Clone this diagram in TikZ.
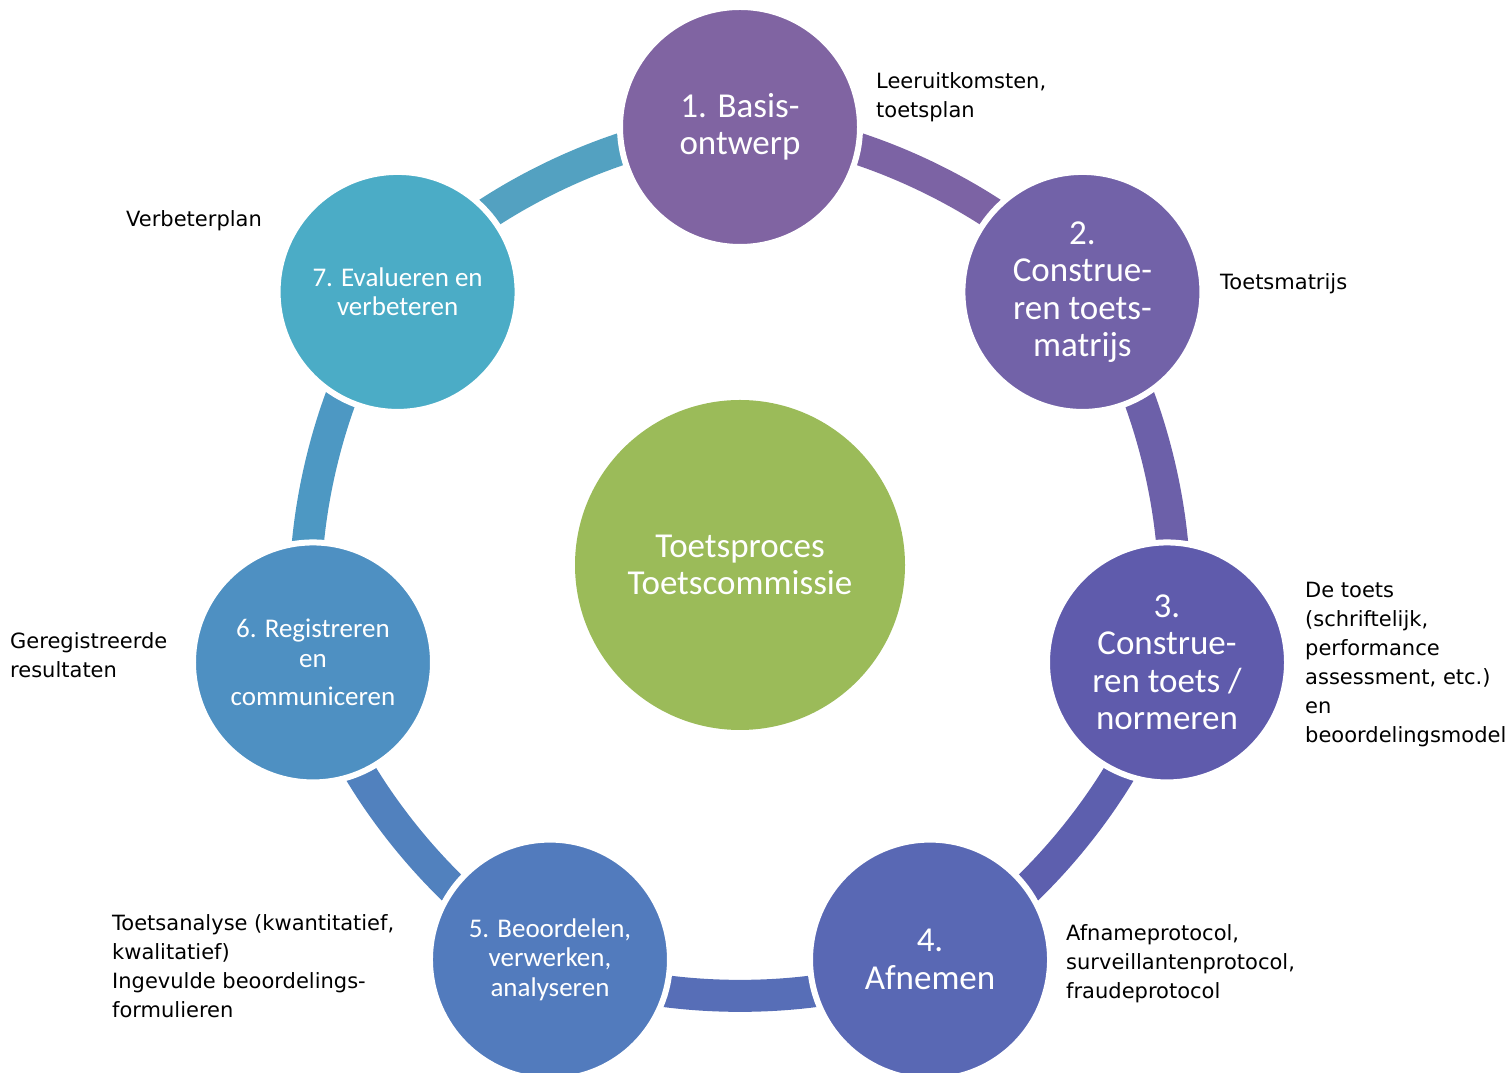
\documentclass[tikz,border=0pt]{standalone}
\usepackage{fontspec}
\usepackage{tikz}
\usetikzlibrary{calc}
\usetikzlibrary{backgrounds}
\newfontfamily\stapfont{Carlito}
\newfontfamily\labelfont{DejaVu Sans}
\definecolor{stapa}{HTML}{8064A2}
\definecolor{stapb}{HTML}{7262A8}
\definecolor{stapc}{HTML}{5F5BAC}
\definecolor{stapd}{HTML}{5968B4}
\definecolor{stape}{HTML}{527BBD}
\definecolor{stapf}{HTML}{4E90C2}
\definecolor{stapg}{HTML}{4BACC6}
\definecolor{midgreen}{HTML}{9BBB59}
\tikzset{
  stap/.style={shape=circle, draw=white, line width=6pt, minimum size=240pt, inner sep=0pt, text=white, align=center},
  bigtxt/.style={font=\stapfont\fontsize{35}{37.5}\selectfont},
  smalltxt/.style={font=\stapfont\fontsize{27}{29.5}\selectfont},
  ringarc/.style={line width=32pt},
  uitvoer/.style={anchor=west, inner sep=0pt, align=left, font=\labelfont\fontsize{21}{29}\selectfont}
}
\newcommand{\stapcirkel}[5]{\node[stap, #4, fill=#2] (#1) at ($(mid)+(#3:438)$) {#5};}
\newcommand{\ringdeel}[3]{\draw[ringarc, draw=#3] (#1.center) to[bend left=25.71, looseness=0.752] (#2.center);}
\newcommand{\uitvoer}[3]{\node[uitvoer] (#1) at ( #2 ) {#3};}

\begin{document}
\begin{tikzpicture}[x=1pt,y=1pt]
            \useasboundingbox (0,0) rectangle (1510,1073);

            % middle
            \node[shape=circle, fill=midgreen, minimum size=330pt, inner sep=0pt, text=white, align=center, bigtxt] (mid) at (740,508) {Toetsproces\\Toetscommissie};

            % steps
            \stapcirkel{s1}{stapa}{90}{bigtxt}{1. Basis-\\ontwerp}
            \stapcirkel{s2}{stapb}{38.571}{bigtxt}{2.\\Construe-\\ren toets-\\matrijs}
            \stapcirkel{s3}{stapc}{-12.857}{bigtxt}{3.\\Construe-\\ren toets /\\normeren}
            \stapcirkel{s4}{stapd}{-64.286}{bigtxt}{4.\\Afnemen}
            \stapcirkel{s5}{stape}{-115.714}{smalltxt}{5. Beoordelen,\\verwerken,\\analyseren}
            \stapcirkel{s6}{stapf}{-167.143}{smalltxt}{6. Registreren\\en\\[9pt]communiceren}
            \stapcirkel{s7}{stapg}{141.429}{smalltxt}{7. Evalueren en\\verbeteren}

            % ring
            \begin{pgfonlayer}{background}
            \ringdeel{s1}{s2}{stapa!70!stapb}
            \ringdeel{s2}{s3}{stapb!70!stapc}
            \ringdeel{s3}{s4}{stapc!70!stapd}
            \ringdeel{s4}{s5}{stapd!70!stape}
            \ringdeel{s5}{s6}{stape!70!stapf}
            \ringdeel{s6}{s7}{stapf!70!stapg}
            \ringdeel{s7}{s1}{stapg!85!stapa}
            \end{pgfonlayer}

            % outputs
            \uitvoer{u1}{876,976}{Leeruitkomsten,\\toetsplan}
            \uitvoer{u2}{1220,789}{Toetsmatrijs}
            \uitvoer{u3}{1305,408}{De toets\\(schriftelijk,\\performance\\assessment, etc.)\\en\\beoordelingsmodel}
            \uitvoer{u4}{1066,109}{Afnameprotocol,\\surveillantenprotocol,\\fraudeprotocol}
            \uitvoer{u5}{112,107}{Toetsanalyse (kwantitatief,\\kwalitatief)\\Ingevulde beoordelings-\\formulieren}
            \uitvoer{u6}{10,418}{Geregistreerde\\resultaten}
            \uitvoer{u7}{126,852}{Verbeterplan}
\end{tikzpicture}
\end{document}
